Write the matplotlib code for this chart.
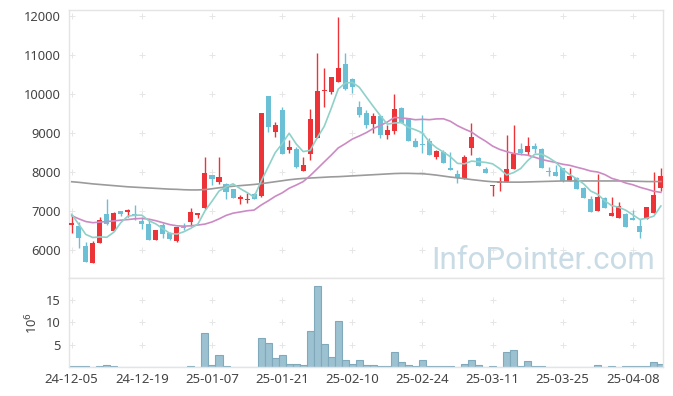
import matplotlib
matplotlib.use('Agg')
import matplotlib.pyplot as plt
import numpy as np

plt.rcParams['font.family'] = ['Noto Sans', 'DejaVu Sans']

# daily prices (index 0 = 24-12-05)
opens = [6633, 6615, 6103, 5675, 6188, 6915, 6487, 7009, 6975, 6915,
         6752, 6667, 6256, 6641, 6427, 6239, 6600, 6709, 6898, 7068,
         7923, 7752, 7684, 7556, 7299, 7282, 7427, 7393, 9949, 9034,
         9590, 8564, 8600, 8034, 8453, 8880, 10077, 10060, 10299, 10769,
         10385, 9658, 9504, 9222, 9436, 8957, 9060, 9632, 9376, 8803,
         8700, 8803, 8393, 8521, 8094, 7949, 7821, 8624, 8351, 8068,
         7641, 7709, 7752, 8077, 8581, 8521, 8667, 8581, 8010, 8000,
         8111, 7769, 7855, 7581, 7308, 7009, 7342, 6880, 6829, 6923,
         6829, 6615, 6803, 6957, 7598]
highs = [6900, 6727, 6214, 6239, 6855, 7299, 6983, 7009, 7043, 7154,
         6838, 6769, 6513, 6684, 6470, 6598, 6680, 7068, 6949, 8393,
         7923, 8376, 7710, 7556, 7410, 7453, 7453, 9504, 9949, 9291,
         9675, 8821, 8650, 8393, 9615, 11043, 10658, 10444, 11983, 11043,
         10402, 9829, 9590, 9504, 9436, 9205, 10000, 9675, 9376, 8863,
         9462, 8863, 8564, 8564, 8521, 8051, 8436, 9248, 8393, 8137,
         7667, 7880, 8949, 9205, 8735, 8906, 8735, 8607, 8137, 8179,
         8111, 8094, 7880, 7624, 7385, 7940, 7368, 7368, 7239, 6940,
         7026, 6795, 7111, 7991, 8094]
lows = [6430, 6043, 5684, 5675, 6188, 6641, 6487, 6872, 6838, 6769,
        6530, 6256, 6256, 6299, 6256, 6214, 6500, 6624, 6820, 7051,
        7667, 7692, 7299, 7342, 7171, 7197, 7299, 7368, 9034, 8889,
        8462, 8479, 8100, 8034, 8308, 8880, 9675, 10000, 10299, 10103,
        10017, 9419, 9120, 8992, 8880, 8838, 8974, 9248, 8803, 8650,
        8479, 8436, 8333, 8239, 8051, 7709, 7821, 8436, 8163, 7966,
        7393, 7521, 7752, 8077, 8436, 8436, 8496, 8111, 7906, 7897,
        7735, 7769, 7564, 7342, 6983, 7009, 7068, 6880, 6829, 6598,
        6769, 6299, 6803, 6957, 7521]
closes = [6701, 6316, 5701, 6188, 6769, 6658, 6957, 6932, 7026, 6889,
          6658, 6256, 6513, 6410, 6282, 6581, 6556, 6966, 6949, 7966,
          7812, 7863, 7496, 7342, 7368, 7290, 7299, 9504, 9162, 9205,
          8462, 8633, 8137, 8180, 9359, 10077, 10090, 10444, 10658, 10128,
          10171, 9462, 9205, 9436, 8949, 9077, 9615, 9265, 8803, 8650,
          8684, 8436, 8539, 8239, 8051, 7838, 8376, 8889, 8163, 7966,
          7655, 7769, 8068, 8462, 8479, 8667, 8581, 8111, 8000, 7897,
          7769, 7897, 7564, 7342, 6983, 7350, 7068, 6940, 7137, 6598,
          6769, 6470, 7094, 7410, 7897]

# moving averages
ma5 = [6915, 6660, 6400, 6320, 6335, 6326, 6455, 6701, 6868, 6892,
       6892, 6752, 6668, 6545, 6424, 6408, 6468, 6559, 6667, 7004,
       7250, 7511, 7617, 7696, 7576, 7472, 7359, 7761, 8125, 8492,
       8726, 8993, 8720, 8523, 8554, 8877, 9169, 9630, 10126, 10279,
       10298, 10173, 9925, 9680, 9445, 9226, 9256, 9268, 9142, 9082,
       9003, 8768, 8622, 8510, 8390, 8221, 8209, 8279, 8263, 8246,
       8210, 8088, 7924, 7984, 8087, 8289, 8451, 8460, 8368, 8251,
       8072, 7935, 7825, 7694, 7511, 7427, 7261, 7137, 7096, 7019,
       6902, 6783, 6814, 6868, 7128]
ma20 = [6880, 6800, 6730, 6700, 6715, 6730, 6745, 6765, 6780, 6800,
        6810, 6790, 6750, 6700, 6650, 6620, 6610, 6620, 6640, 6664,
        6719, 6797, 6886, 6944, 6974, 7006, 7023, 7151, 7258, 7374,
        7464, 7583, 7664, 7753, 7907, 8081, 8258, 8432, 8617, 8725,
        8843, 8923, 9009, 9114, 9193, 9282, 9398, 9386, 9368, 9340,
        9351, 9341, 9361, 9364, 9299, 9187, 9101, 9024, 8899, 8791,
        8665, 8580, 8523, 8475, 8451, 8431, 8379, 8321, 8281, 8244,
        8198, 8171, 8122, 8077, 8024, 7999, 7934, 7837, 7785, 7717,
        7673, 7608, 7559, 7506, 7477]
ma120 = [7750, 7735, 7715, 7695, 7680, 7665, 7650, 7635, 7620, 7610,
         7600, 7590, 7580, 7570, 7560, 7555, 7545, 7540, 7540, 7550,
         7570, 7595, 7615, 7635, 7650, 7665, 7680, 7700, 7725, 7750,
         7775, 7800, 7820, 7835, 7845, 7855, 7865, 7875, 7880, 7890,
         7900, 7910, 7920, 7930, 7940, 7950, 7960, 7965, 7965, 7960,
         7955, 7940, 7920, 7895, 7870, 7850, 7830, 7805, 7785, 7765,
         7750, 7745, 7740, 7740, 7740, 7745, 7750, 7755, 7760, 7765,
         7770, 7770, 7770, 7770, 7770, 7770, 7770, 7770, 7770, 7770,
         7765, 7760, 7755, 7755, 7755]

# volume in millions
volume = [0.3, 0.3, 0.3, 0.0, 0.3, 0.55, 0.3, 0.0, 0.0, 0.0,
          0.0, 0.0, 0.0, 0.0, 0.0, 0.0, 0.0, 0.3, 0.0, 7.6,
          0.55, 2.7, 0.3, 0.0, 0.0, 0.0, 0.0, 6.5, 5.4, 2.0,
          2.7, 0.8, 0.8, 0.4, 8.0, 18.1, 5.1, 2.3, 10.3, 1.6,
          0.7, 1.6, 0.55, 0.55, 0.3, 0.3, 3.4, 1.2, 0.55, 0.3,
          1.6, 0.3, 0.3, 0.3, 0.3, 0.0, 0.7, 1.6, 0.55, 0.0,
          0.3, 0.0, 3.4, 3.8, 0.3, 1.4, 0.3, 0.3, 0.0, 0.0,
          0.0, 0.0, 0.0, 0.0, 0.0, 0.55, 0.0, 0.3, 0.0, 0.3,
          0.3, 0.3, 0.3, 1.15, 0.7]

tick_pos = [0, 10, 20, 30, 40, 50, 60, 70, 80]
tick_labels = ['24-12-05', '24-12-19', '25-01-07', '25-01-21', '25-02-10',
               '25-02-24', '25-03-11', '25-03-25', '25-04-08']
price_ticks = [6000, 7000, 8000, 9000, 10000, 11000, 12000]
vol_ticks = [5, 10, 15]

RED = '#ec3438'
BLUE = '#6cc0d6'
SPINE = '#e4e4e4'
TXT = '#444444'

fig = plt.figure(figsize=(6.73, 3.96), dpi=100)
ax = fig.add_axes([0.1025, 0.298, 0.8831, 0.6768])
axv = fig.add_axes([0.1025, 0.0725, 0.8831, 0.2255])

x = np.arange(len(closes))
o = np.array(opens)
c = np.array(closes)
up = c >= o
cols = [RED if u else BLUE for u in up]

# faint grid crosses
gx, gy = np.meshgrid(tick_pos, price_ticks)
ax.plot(gx.ravel(), gy.ravel(), '+', color='#e6e6e6', ms=4, mew=0.7, zorder=0)
gx, gy = np.meshgrid(tick_pos, vol_ticks)
axv.plot(gx.ravel(), gy.ravel(), '+', color='#e6e6e6', ms=4, mew=0.7, zorder=0)

# candles
ax.vlines(x, lows, highs, colors=cols, linewidth=1.0, zorder=2)
body_h = np.maximum(np.abs(c - o), 28)
ax.bar(x, body_h, bottom=np.minimum(o, c), width=0.72, color=cols, zorder=3)

ax.plot(x, ma120, color='#9b9b9b', lw=1.2, zorder=4)
ax.plot(x, ma20, color='#cc8ac4', lw=1.2, zorder=4)
ax.plot(x, ma5, color='#8fd1c9', lw=1.2, zorder=4)

ax.text(0.986, 0.032, 'InfoPointer.com', transform=ax.transAxes, ha='right',
        va='baseline', fontsize=22.5, color='#c9dbe5', zorder=1,
        family=['Roboto', 'DejaVu Sans'])

ax.set_xlim(-0.39, 84.35)
ax.set_ylim(5282, 12154)
ax.set_yticks(price_ticks)
ax.set_xticks(tick_pos)
ax.tick_params(axis='x', length=0, labelbottom=False)
ax.tick_params(axis='y', length=0, labelsize=9.3, labelcolor=TXT, pad=6)

axv.bar(x, volume, width=1.0, color='#9cc1d1', edgecolor='#80aabc', linewidth=0.8)
axv.set_xlim(-0.39, 84.35)
axv.set_ylim(0, 19.84)
axv.set_yticks(vol_ticks)
axv.set_xticks(tick_pos)
axv.set_xticklabels(tick_labels)
axv.tick_params(axis='x', length=0, labelsize=9.5, labelcolor=TXT, pad=4)
axv.tick_params(axis='y', length=0, labelsize=9.3, labelcolor=TXT, pad=6)
axv.set_ylabel('10$^6$', fontsize=9.3, color=TXT, labelpad=4)

for a in (ax, axv):
    for s in a.spines.values():
        s.set_color(SPINE)
        s.set_linewidth(1.0)

fig.savefig('out.png', dpi=100)
